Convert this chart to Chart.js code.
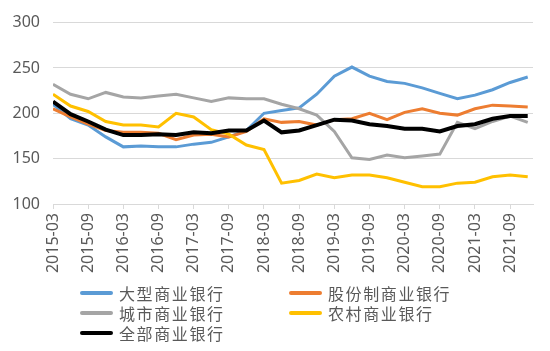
<!DOCTYPE html>
<html>
<head>
<meta charset="utf-8">
<script src="https://cdn.jsdelivr.net/npm/chart.js@4/dist/chart.umd.min.js"></script>
<style>
  html, body { margin: 0; padding: 0; background: #fff; }
  #wrap { position: relative; width: 550px; height: 351px; }
  #legend {
    position: absolute; left: 80px; top: 283px;
    display: grid; grid-template-columns: 209px 200px;
    font-family: "Noto Sans CJK SC", sans-serif; font-size: 16px; letter-spacing: 1.6px;
    color: #595959;
  }
  .item { display: flex; align-items: center; height: 20px; white-space: nowrap; }
  .sw { width: 33px; height: 4px; margin-right: 6px; border-radius: 2px; }
</style>
</head>
<body>
<div id="wrap">
  <canvas id="chart" width="550" height="351"></canvas>
  <div id="legend"></div>
</div>
<script>
// quarterly, 2015-03 .. 2021-12
const quarters = [
  '2015-03','2015-06','2015-09','2015-12','2016-03','2016-06','2016-09','2016-12',
  '2017-03','2017-06','2017-09','2017-12','2018-03','2018-06','2018-09','2018-12',
  '2019-03','2019-06','2019-09','2019-12','2020-03','2020-06','2020-09','2020-12',
  '2021-03','2021-06','2021-09','2021-12'
];
const seriesNames = ['大型商业银行', '股份制商业银行', '城市商业银行', '农村商业银行', '全部商业银行'];

const bigBanks = [210, 194, 187, 174, 163, 164, 163, 163, 166, 168, 174, 181, 200, 203,
  206, 221, 241, 251, 241, 235, 233, 228, 222, 216, 220, 226, 234, 240];
const jointStock = [205, 196, 188, 181, 179, 179, 178, 171, 176, 177, 174, 180, 194, 190,
  191, 187, 193, 194, 200, 193, 201, 205, 200, 198, 205, 209, 208, 207];
const cityBanks = [232, 221, 216, 223, 218, 217, 219, 221, 217, 213, 217, 216, 216, 210,
  205, 198, 180, 151, 149, 154, 151, 153, 155, 190, 183, 191, 197, 190];
const ruralBanks = [221, 208, 202, 191, 187, 187, 185, 200, 196, 182, 177, 165, 160, 123,
  126, 133, 129, 132, 132, 129, 124, 119, 119, 123, 124, 130, 132, 130];
const allBanks = [213, 199, 191, 182, 176, 176, 177, 176, 179, 178, 181, 181, 192, 179,
  181, 187, 193, 192, 188, 186, 183, 183, 180, 186, 188, 194, 197, 197];

const yTicks = [100, 150, 200, 250, 300];

const colors = ['#5B9BD5', '#ED7D31', '#A5A5A5', '#FFC000', '#000000'];
const widths = [3, 3, 3, 3, 4];
const values = [bigBanks, jointStock, cityBanks, ruralBanks, allBanks];

const datasets = values.map((vals, k) => ({
  label: seriesNames[k],
  data: vals.map((v, i) => ({ x: i, y: v })),
  borderColor: colors[k],
  backgroundColor: colors[k],
  borderWidth: widths[k],
  pointRadius: 0,
  tension: 0,
  order: 5 - k
}));

new Chart(document.getElementById('chart'), {
  type: 'line',
  data: { datasets },
  options: {
    responsive: false,
    animation: false,
    layout: { padding: { top: 18, right: 17, left: 0, bottom: 0 } },
    plugins: { legend: { display: false }, tooltip: { enabled: false } },
    scales: {
      x: {
        type: 'linear',
        min: 0,
        max: 27.3,
        afterFit: (s) => { s.height = 147; },
        border: { color: '#D9D9D9' },
        grid: { drawOnChartArea: false, drawTicks: true, tickLength: 5, color: '#D9D9D9' },
        ticks: {
          stepSize: 2,
          includeBounds: false,
          autoSkip: false,
          minRotation: 90,
          maxRotation: 90,
          padding: 4,
          color: '#595959',
          font: { family: 'Noto Sans', size: 16 },
          callback: (v) => quarters[v]
        }
      },
      y: {
        min: 100,
        max: 300,
        afterFit: (s) => { s.width = 53; },
        border: { display: false },
        grid: { color: '#D9D9D9', drawTicks: false },
        afterBuildTicks: (s) => { s.ticks = yTicks.map(v => ({ value: v })); },
        ticks: {
          padding: 13,
          color: '#595959',
          font: { family: 'Noto Sans', size: 16 }
        }
      }
    }
  }
});

const legend = document.getElementById('legend');
seriesNames.forEach((name, k) => {
  const item = document.createElement('div');
  item.className = 'item';
  item.innerHTML = '<span class="sw" style="background:' + colors[k] + '"></span>' + name;
  legend.appendChild(item);
});
</script>
</body>
</html>
